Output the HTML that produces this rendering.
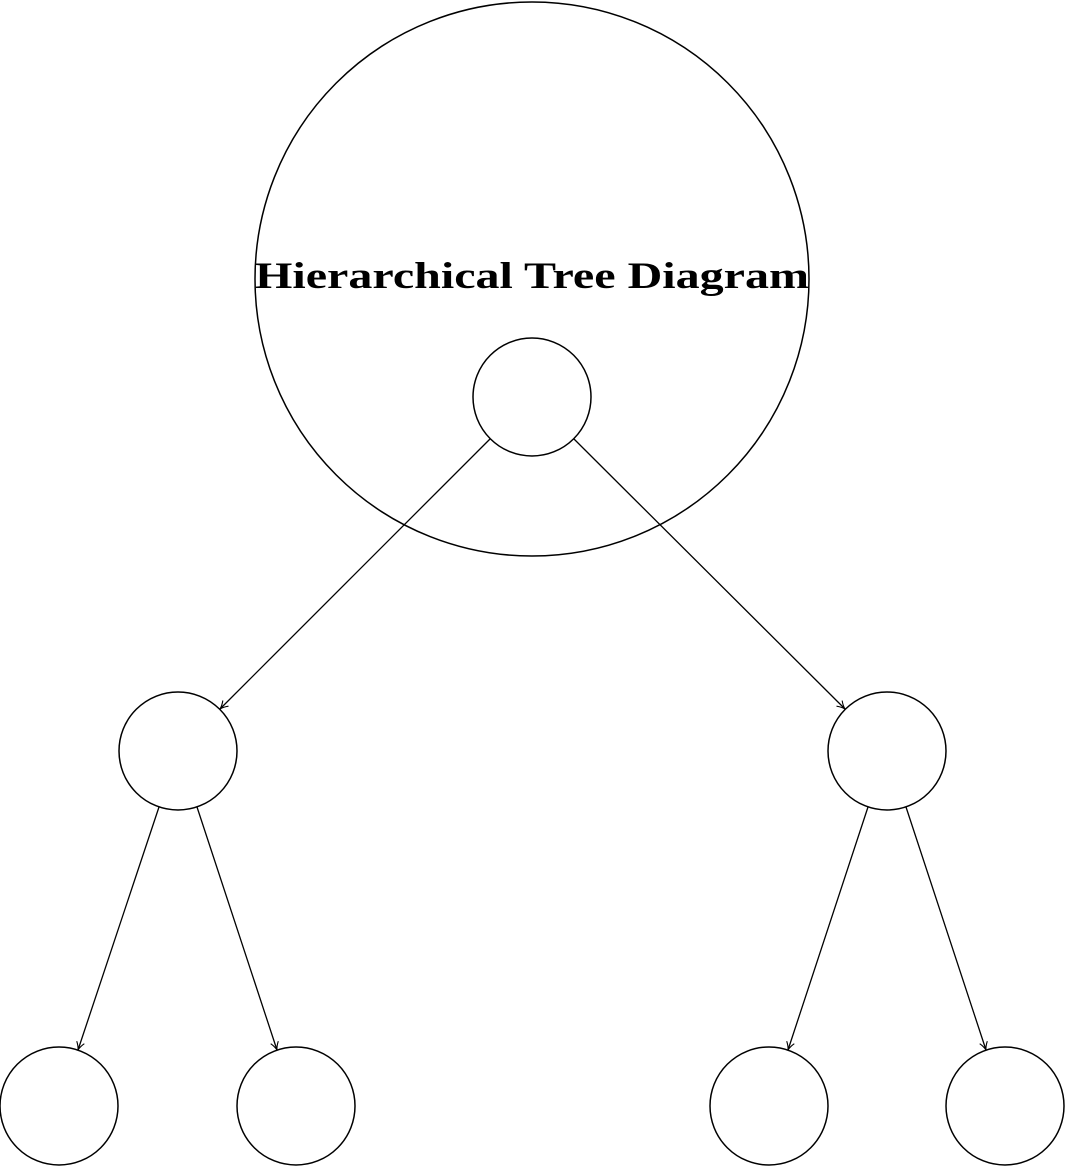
<!DOCTYPE html>
<html><head><meta charset="utf-8"><style>html,body{margin:0;padding:0;background:#fff}svg{display:block}</style></head>
<body>
<svg width="1065" height="1166" viewBox="0 0 1065 1166" xmlns="http://www.w3.org/2000/svg">
<defs>
<marker id="a" viewBox="0 0 10 10" refX="9" refY="5" markerWidth="10" markerHeight="10" markerUnits="userSpaceOnUse" orient="auto">
<path d="M1,1 Q5,4 9,5 Q5,6 1,9" fill="none" stroke="#000" stroke-width="1.1"/>
</marker>
</defs>
<g fill="none" stroke="#000" stroke-width="1.5">
<circle cx="532" cy="279" r="277"/>
<circle cx="532" cy="397" r="59"/>
<circle cx="178" cy="751" r="59"/>
<circle cx="887" cy="751" r="59"/>
<circle cx="59" cy="1106" r="59"/>
<circle cx="296" cy="1106" r="59"/>
<circle cx="769" cy="1106" r="59"/>
<circle cx="1005" cy="1106" r="59"/>
</g>
<g fill="none" stroke="#000" stroke-width="1.3" marker-end="url(#a)">
<line x1="490" y1="439" x2="220" y2="709"/>
<line x1="574" y1="439" x2="845" y2="709"/>
<line x1="159" y1="807" x2="78" y2="1050"/>
<line x1="197" y1="807" x2="277" y2="1050"/>
<line x1="868" y1="807" x2="788" y2="1050"/>
<line x1="906" y1="807" x2="986" y2="1050"/>
</g>
<text x="532" y="288" text-anchor="middle" font-family="Liberation Serif, serif" font-weight="bold" font-size="37" textLength="554" lengthAdjust="spacingAndGlyphs">Hierarchical Tree Diagram</text>
</svg>
</body></html>
